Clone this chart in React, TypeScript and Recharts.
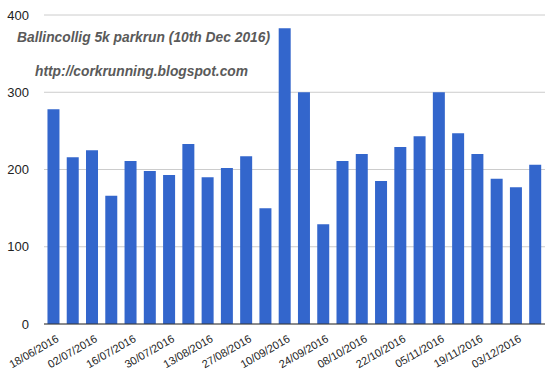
import React from "react";
import { BarChart, Bar, XAxis, YAxis, CartesianGrid } from "recharts";

const dates = [
  "18/06/2016", "25/06/2016", "02/07/2016", "09/07/2016", "16/07/2016", "23/07/2016",
  "30/07/2016", "06/08/2016", "13/08/2016", "20/08/2016", "27/08/2016", "03/09/2016",
  "10/09/2016", "17/09/2016", "24/09/2016", "01/10/2016", "08/10/2016", "15/10/2016",
  "22/10/2016", "29/10/2016", "05/11/2016", "12/11/2016", "19/11/2016", "26/11/2016",
  "03/12/2016", "10/12/2016",
];
const runners = [
  278, 216, 225, 166, 211, 198, 193, 233, 190, 202, 217, 150, 383,
  300, 129, 211, 220, 185, 229, 243, 300, 247, 220, 188, 177, 206,
];
const yTicks = [0, 100, 200, 300, 400];
const titleLine = "Ballincollig 5k parkrun (10th Dec 2016)";
const urlLine = "http://corkrunning.blogspot.com";

const data = dates.map((d, i) => ({ date: d, runners: runners[i] }));

const FONT = "Arial, 'Liberation Sans', sans-serif";

const XTick = (props: any) => {
  const { x, y, payload } = props;
  return (
    <text
      x={x + 2}
      y={y + 2}
      textAnchor="end"
      dominantBaseline="hanging"
      transform={`rotate(-30, ${x + 2}, ${y + 2})`}
      fontFamily={FONT}
      fontSize={11}
      fill="#222"
    >
      {payload.value}
    </text>
  );
};

export default function App() {
  return (
    <div style={{ position: "absolute", left: 0, top: 0, width: 552, height: 379, background: "#fff" }}>
      <BarChart
        width={552}
        height={379}
        data={data}
        margin={{ top: 15, right: 7, left: 0, bottom: 0 }}
        barCategoryGap="18%"
      >
        <CartesianGrid vertical={false} stroke="#cccccc" />
        <XAxis
          dataKey="date"
          height={55}
          interval={1}
          tickLine={false}
          axisLine={{ stroke: "#333333" }}
          tick={<XTick />}
        />
        <YAxis
          width={44}
          domain={[0, 400]}
          ticks={yTicks}
          axisLine={false}
          tickLine={false}
          tickMargin={9}
          tick={{ fontFamily: FONT, fontSize: 13, fill: "#222" }}
        />
        <Bar dataKey="runners" fill="#3366cc" isAnimationActive={false} />
      </BarChart>
      <div
        style={{
          position: "absolute",
          left: 17,
          top: 30,
          fontFamily: FONT,
          fontSize: 13.8,
          fontWeight: "bold",
          fontStyle: "italic",
          color: "#5a5a5a",
          whiteSpace: "nowrap",
        }}
      >
        {titleLine}
      </div>
      <div
        style={{
          position: "absolute",
          left: 35,
          top: 64,
          fontFamily: FONT,
          fontSize: 13.8,
          fontWeight: "bold",
          fontStyle: "italic",
          color: "#5a5a5a",
          whiteSpace: "nowrap",
        }}
      >
        {urlLine}
      </div>
    </div>
  );
}
